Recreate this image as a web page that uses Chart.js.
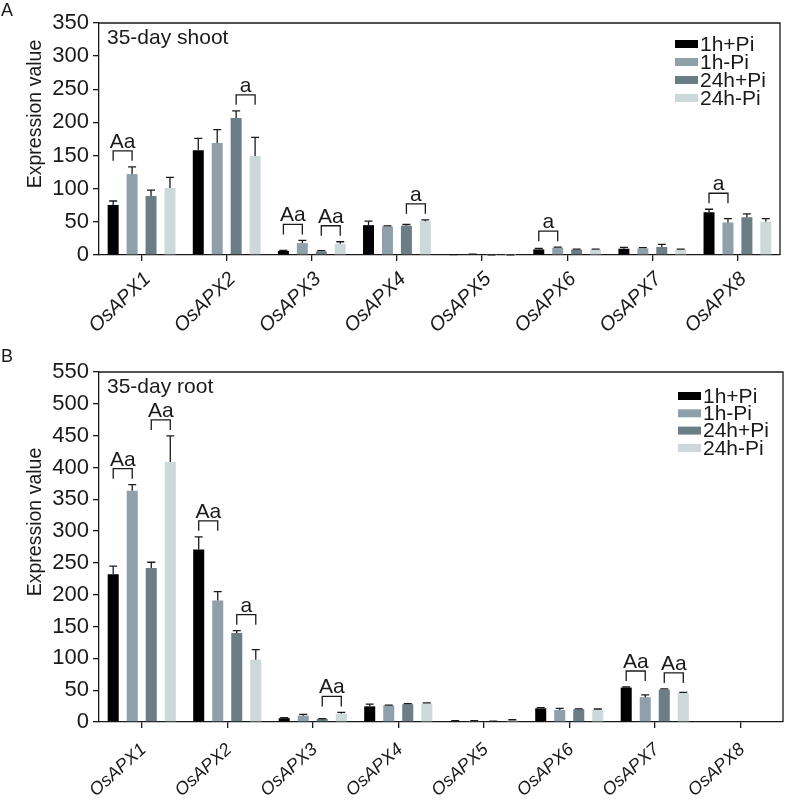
<!DOCTYPE html>
<html>
<head>
<meta charset="utf-8">
<script src="https://cdn.jsdelivr.net/npm/chart.js@4/dist/chart.umd.min.js"></script>
<style>
  html, body { margin: 0; padding: 0; background: #fff; }
  #wrap { position: relative; width: 785px; height: 800px; }
  .box { position: absolute; left: 0; width: 785px; }
</style>
</head>
<body>
<div id="wrap">
  <div class="box" style="top:0;height:350px"><canvas id="chartA"></canvas></div>
  <div class="box" style="top:340px;height:460px"><canvas id="chartB"></canvas></div>
</div>
<script>
// ---------- DATA ----------
const categories = ['OsAPX1','OsAPX2','OsAPX3','OsAPX4','OsAPX5','OsAPX6','OsAPX7','OsAPX8'];
const seriesLabels = ['1h+Pi','1h-Pi','24h+Pi','24h-Pi'];
const seriesColors = ['#000000','#8fa0aa','#6b7d85','#cdd8da'];

// Panel A: 35-day shoot
const shoot1hPlus   = [75.5, 158, 6, 45, 0.4, 8.5, 9.5, 64.5];
const shoot1hMinus  = [122, 169, 18, 43, 1.0, 11, 10, 49];
const shoot24hPlus  = [89, 206.5, 5.5, 44, 0.1, 8, 12, 57];
const shoot24hMinus = [101, 149.5, 17, 51, 0.1, 8, 8, 50];
const shootErr1hPlus   = [6, 18, 1, 6, 0.3, 1.5, 2, 4.5];
const shootErr1hMinus  = [11, 20, 4, 1, 0.4, 0.8, 1, 6];
const shootErr24hPlus  = [9, 11, 1, 2, 0.1, 1, 4, 5];
const shootErr24hMinus = [16, 28, 3, 2, 0.1, 1, 1, 5];
const shootYTicks = [0, 50, 100, 150, 200, 250, 300, 350];
const shootSig = [
  {cat: 0, bars: [0, 1], text: 'Aa'},
  {cat: 1, bars: [2, 3], text: 'a'},
  {cat: 2, bars: [0, 1], text: 'Aa'},
  {cat: 2, bars: [2, 3], text: 'Aa'},
  {cat: 3, bars: [2, 3], text: 'a'},
  {cat: 5, bars: [0, 1], text: 'a'},
  {cat: 7, bars: [0, 1], text: 'a'}
];

// Panel B: 35-day root
const root1hPlus   = [232, 271, 6, 24.6, 1.5, 21.5, 54, 0];
const root1hMinus  = [363.5, 191, 10, 26, 1.5, 19, 39, 0];
const root24hPlus  = [242, 140, 4.7, 28, 1, 20, 51, 0];
const root24hMinus = [408.5, 98, 13, 29, 2.5, 19.4, 45.6, 0];
const rootErr1hPlus   = [13, 20, 1, 3.5, 0.5, 1, 1, 0];
const rootErr1hMinus  = [9.5, 14, 2, 0.5, 0.5, 2.5, 3.5, 0];
const rootErr24hPlus  = [9, 3.5, 0.5, 1, 0.3, 0.5, 1, 0];
const rootErr24hMinus = [41, 15.6, 2, 1, 1, 1, 1, 0];
const rootYTicks = [0, 50, 100, 150, 200, 250, 300, 350, 400, 450, 500, 550];
const rootSig = [
  {cat: 0, bars: [0, 1], text: 'Aa'},
  {cat: 0, bars: [2, 3], text: 'Aa'},
  {cat: 1, bars: [0, 1], text: 'Aa'},
  {cat: 1, bars: [2, 3], text: 'a'},
  {cat: 2, bars: [2, 3], text: 'Aa'},
  {cat: 6, bars: [0, 1], text: 'Aa'},
  {cat: 6, bars: [2, 3], text: 'Aa'}
];

// ---------- DRAWING ----------
const FONT = '"Liberation Sans", Arial, sans-serif';
const INK = '#1a1a1a';

const decorPlugin = {
  id: 'decor',
  afterDatasetsDraw(chart, args, opts) {
    const ctx = chart.ctx;
    const y = chart.scales.y;
    const xs = chart.scales.x;
    const area = chart.chartArea;
    ctx.save();
    // error bars
    ctx.strokeStyle = INK;
    ctx.lineWidth = 1.3;
    const errTop = [];
    chart.data.datasets.forEach((ds, di) => {
      const meta = chart.getDatasetMeta(di);
      errTop[di] = [];
      meta.data.forEach((el, j) => {
        const v = ds.data[j];
        const e = opts.errors[di][j];
        const yt = y.getPixelForValue(v + e);
        errTop[di][j] = yt;
        if (v <= 0) return;
        ctx.beginPath();
        ctx.moveTo(el.x, el.y);
        ctx.lineTo(el.x, yt);
        ctx.moveTo(el.x - 4, yt);
        ctx.lineTo(el.x + 4, yt);
        ctx.stroke();
      });
    });
    // significance brackets
    ctx.fillStyle = INK;
    ctx.font = '21px ' + FONT;
    ctx.textAlign = 'center';
    ctx.textBaseline = 'alphabetic';
    opts.sig.forEach(s => {
      const e0 = chart.getDatasetMeta(s.bars[0]).data[s.cat];
      const e1 = chart.getDatasetMeta(s.bars[1]).data[s.cat];
      const top = Math.min(errTop[s.bars[0]][s.cat], errTop[s.bars[1]][s.cat]);
      const legBottom = top - 6;
      const h = legBottom - 10;
      ctx.beginPath();
      ctx.moveTo(e0.x, legBottom);
      ctx.lineTo(e0.x, h);
      ctx.lineTo(e1.x, h);
      ctx.lineTo(e1.x, legBottom);
      ctx.stroke();
      ctx.fillText(s.text, (e0.x + e1.x) / 2, h - 3);
    });
    // frame top and right
    ctx.beginPath();
    ctx.lineWidth = 1.3;
    ctx.moveTo(area.left, area.top);
    ctx.lineTo(area.right, area.top);
    ctx.lineTo(area.right, area.bottom);
    ctx.stroke();
    // rotated category labels, placed at the x scale's tick pixels
    ctx.font = 'italic ' + opts.xFont + 'px ' + FONT;
    ctx.textAlign = 'right';
    ctx.textBaseline = 'middle';
    chart.data.labels.forEach((lab, i) => {
      const px = xs.getPixelForTick(i);
      ctx.save();
      ctx.translate(px + opts.xDx, xs.top + opts.xDy);
      ctx.rotate(-opts.xRot * Math.PI / 180);
      ctx.fillText(lab, 0, 0);
      ctx.restore();
    });
    // panel title
    ctx.textAlign = 'left';
    ctx.textBaseline = 'alphabetic';
    ctx.font = '21px ' + FONT;
    ctx.fillText(opts.title, area.left + 8, area.top + 21);
    // panel letter
    ctx.font = '18px ' + FONT;
    ctx.fillText(opts.letter, 1, opts.letterY);
    // y-axis title
    ctx.save();
    ctx.translate(36, (area.top + area.bottom) / 2 - 25);
    ctx.rotate(-Math.PI / 2);
    ctx.textAlign = 'center';
    ctx.textBaseline = 'middle';
    ctx.font = '19.5px ' + FONT;
    ctx.fillText('Expression value', 0, 0);
    ctx.restore();
    // legend
    ctx.font = '21px ' + FONT;
    ctx.textBaseline = 'middle';
    chart.data.datasets.forEach((ds, di) => {
      const cy = area.top + opts.legendTop + di * opts.legendGap;
      const bx = area.right - 105;
      ctx.fillStyle = ds.backgroundColor;
      ctx.fillRect(bx, cy - 4, 23, 8);
      ctx.fillStyle = INK;
      ctx.fillText(ds.label, bx + 25, cy + 1);
    });
    ctx.restore();
  }
};

function makeChart(id, series, errors, yTicks, yMax, sig, cfg) {
  const datasets = series.map((d, i) => ({
    label: seriesLabels[i],
    data: d,
    backgroundColor: seriesColors[i],
    borderWidth: 0,
    barPercentage: 0.58,
    categoryPercentage: 0.89
  }));
  return new Chart(document.getElementById(id), {
    type: 'bar',
    data: { labels: categories, datasets },
    options: {
      responsive: true,
      maintainAspectRatio: false,
      animation: false,
      layout: { padding: { top: cfg.padTop, right: cfg.padRight, left: 0, bottom: 0 } },
      plugins: {
        legend: { display: false },
        tooltip: { enabled: false },
        decor: { errors, sig, title: cfg.title, letter: cfg.letter, letterY: cfg.letterY,
                 legendTop: cfg.legendTop, legendGap: cfg.legendGap,
                 xFont: cfg.xFont, xRot: cfg.xRot, xDx: cfg.xDx, xDy: cfg.xDy }
      },
      scales: {
        x: {
          offset: true,
          grid: { display: true, drawOnChartArea: false, drawTicks: true, tickLength: 6,
                  offset: false, color: INK, lineWidth: 1.3 },
          border: { display: true, color: INK, width: 1.3 },
          ticks: { display: false, autoSkip: false },
          afterFit: s => { s.height = cfg.xHeight; }
        },
        y: {
          min: 0, max: yMax,
          afterBuildTicks: s => { s.ticks = yTicks.map(v => ({ value: v })); },
          grid: { display: true, drawOnChartArea: false, drawTicks: true, tickLength: 6,
                  color: INK, lineWidth: 1.3 },
          border: { display: true, color: INK, width: 1.3 },
          ticks: { color: INK, font: { family: FONT, size: 22 }, padding: 4 },
          title: { display: false },
          afterFit: s => { s.width = 99; }
        }
      }
    },
    plugins: [decorPlugin]
  });
}

makeChart('chartA',
  [shoot1hPlus, shoot1hMinus, shoot24hPlus, shoot24hMinus],
  [shootErr1hPlus, shootErr1hMinus, shootErr24hPlus, shootErr24hMinus],
  shootYTicks, 350, shootSig,
  { padTop: 23, padRight: 5, xHeight: 95, xFont: 20, xRot: 44, xDx: 6, xDy: 21,
    title: '35-day shoot', letter: 'A', letterY: 16, legendTop: 21, legendGap: 18 });

makeChart('chartB',
  [root1hPlus, root1hMinus, root24hPlus, root24hMinus],
  [rootErr1hPlus, rootErr1hMinus, rootErr24hPlus, rootErr24hMinus],
  rootYTicks, 550, rootSig,
  { padTop: 32, padRight: 2, xHeight: 78, xFont: 18, xRot: 42, xDx: 2, xDy: 25,
    title: '35-day root', letter: 'B', letterY: 22, legendTop: 24, legendGap: 17.3 });
</script>
</body>
</html>
